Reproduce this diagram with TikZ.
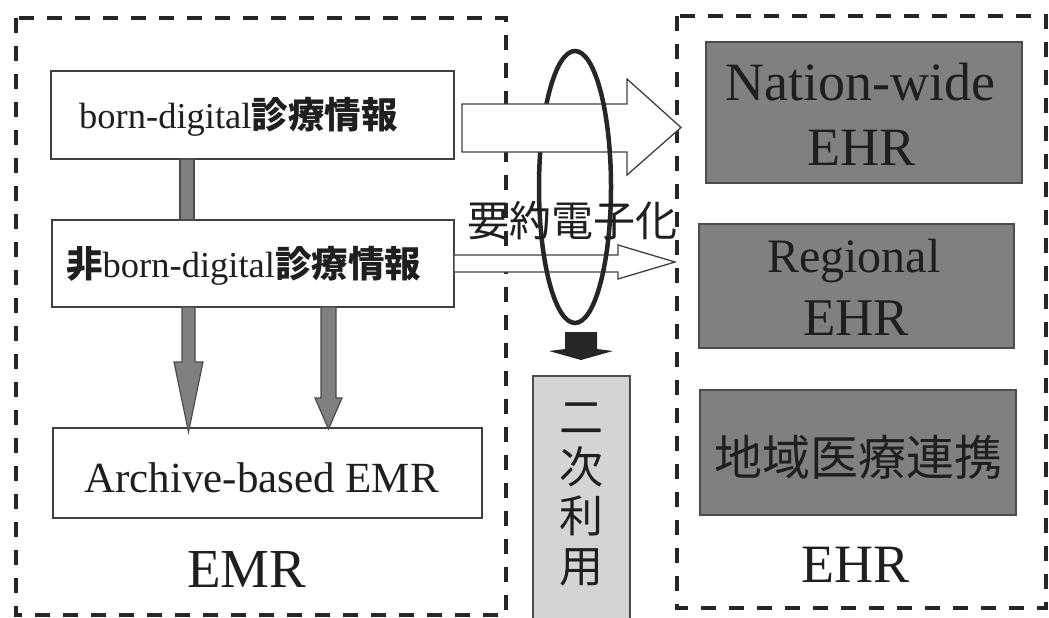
\documentclass[tikz,border=0pt]{standalone}
\usepackage{fontspec}
\setmainfont{Liberation Serif}
\newfontfamily\cjk{Noto Sans CJK JP}
\begin{document}
\begin{tikzpicture}[x=1pt,y=-1pt,
  dashbox/.style={draw=black!85, line width=4pt, dash pattern=on 15pt off 13pt},
  plainbox/.style={draw=black!75, line width=1.5pt, fill=white, inner sep=0pt},
  ehrbox/.style={draw=black!70, line width=1.5pt, fill=black!50, inner sep=0pt},
  lightbox/.style={draw=black!70, line width=1.5pt, fill=black!17},
  grayarrow/.style={draw=black!70, line width=1.2pt, fill=black!50},
  blockarrow/.style={draw=black!75, line width=1.3pt, fill=white},
  blackarrow/.style={fill=black!85},
  ring/.style={draw=black!85, line width=4.5pt},
  txt/.style={inner sep=0pt, text=black!88}]
\useasboundingbox (0,0) rectangle (1049,618);
\fill[white] (0,0) rectangle (1049,618);

% dashed groups
\draw[dashbox] (16,18) rectangle (506,615);
\draw[dashbox] (677,16) rectangle (1046,608);

% boxes
\node[plainbox, minimum width=403pt, minimum height=88pt] (b1) at (252.5,115) {};
\node[plainbox, minimum width=402pt, minimum height=87pt] (b2) at (253,263.5) {};
\node[plainbox, minimum width=429pt, minimum height=90pt] (arch) at (267.5,473) {};
\node[ehrbox, minimum width=316pt, minimum height=141pt] (nw) at (864,112.5) {};
\node[ehrbox, minimum width=315pt, minimum height=124pt] (reg) at (856.5,286) {};
\node[ehrbox, minimum width=316pt, minimum height=125pt] (chiiki) at (858,452.5) {};
\draw[lightbox] (533,376) rectangle (630,630);

% gray connectors
\draw[grayarrow] (180,159) rectangle (194,220);
\draw[grayarrow] (182,307) -- (182,362) -- (174,362) -- (188.5,432) -- (203,362) -- (195,362) -- (195,307) -- cycle;
\draw[grayarrow] (321,307) -- (321,398) -- (315,398) -- (328.5,429) -- (342,398) -- (336,398) -- (336,307) -- cycle;

% block arrows and ring
\draw[blockarrow] (454,255) -- (618,255) -- (618,245) -- (675,262) -- (618,279) -- (618,272) -- (454,272) -- cycle;
\begin{scope}
  \clip (500,40) rectangle (575,340);
  \draw[ring] (575,187) ellipse [x radius=36, y radius=136];
\end{scope}
\draw[blockarrow] (462,104) -- (627,104) -- (627,79) -- (681,127.5) -- (627,175) -- (627,152) -- (462,152) -- cycle;
\begin{scope}
  \clip (575,40) rectangle (650,340);
  \draw[ring] (575,187) ellipse [x radius=36, y radius=136];
\end{scope}

% black arrow
\fill[blackarrow] (565,332) -- (597,332) -- (597,349) -- (613,351) -- (581,360) -- (549,351) -- (565,349) -- cycle;

% texts
\node[txt, anchor=base west, font=\fontsize{36.5}{40}\selectfont] (t1) at (79,128) {born-digital{\cjk\bfseries 診療情報}};
\node[txt, anchor=base west, font=\fontsize{36.5}{40}\selectfont] (t2) at (66,277) {{\cjk\bfseries 非}born-digital{\cjk\bfseries 診療情報}};
\node[txt, anchor=base west, font=\fontsize{43}{46}\selectfont] (t3) at (84,492) {Archive-based EMR};
\node[txt, anchor=base west, font=\fontsize{55}{60}\selectfont] (t4) at (187,587) {EMR};
\node[txt, anchor=base west, font=\fontsize{54}{58}\selectfont] (t5) at (725,100) {Nation-wide};
\node[txt, anchor=base west, font=\fontsize{54}{58}\selectfont] (t6) at (807,165) {EHR};
\node[txt, anchor=base west, font=\fontsize{48}{52}\selectfont] (t7) at (767,272) {Regional};
\node[txt, anchor=base west, font=\fontsize{53}{56}\selectfont] (t8) at (803,335) {EHR};
\node[txt, font=\cjk\fontsize{48}{52}\selectfont] (t9) at (858,457) {地域医療連携};
\node[txt, anchor=base west, font=\fontsize{54}{58}\selectfont] (t10) at (801,582) {EHR};
\node[txt, font=\cjk\fontsize{42}{46}\selectfont] (t11) at (572,221) {要約電子化};
\node[txt, font=\cjk\fontsize{44}{48}\selectfont] (n1) at (581,418) {二};
\node[txt, font=\cjk\fontsize{44}{48}\selectfont] (n2) at (581,467) {次};
\node[txt, font=\cjk\fontsize{44}{48}\selectfont] (n3) at (581,516) {利};
\node[txt, font=\cjk\fontsize{44}{48}\selectfont] (n4) at (581,567) {用};
\end{tikzpicture}
\end{document}
